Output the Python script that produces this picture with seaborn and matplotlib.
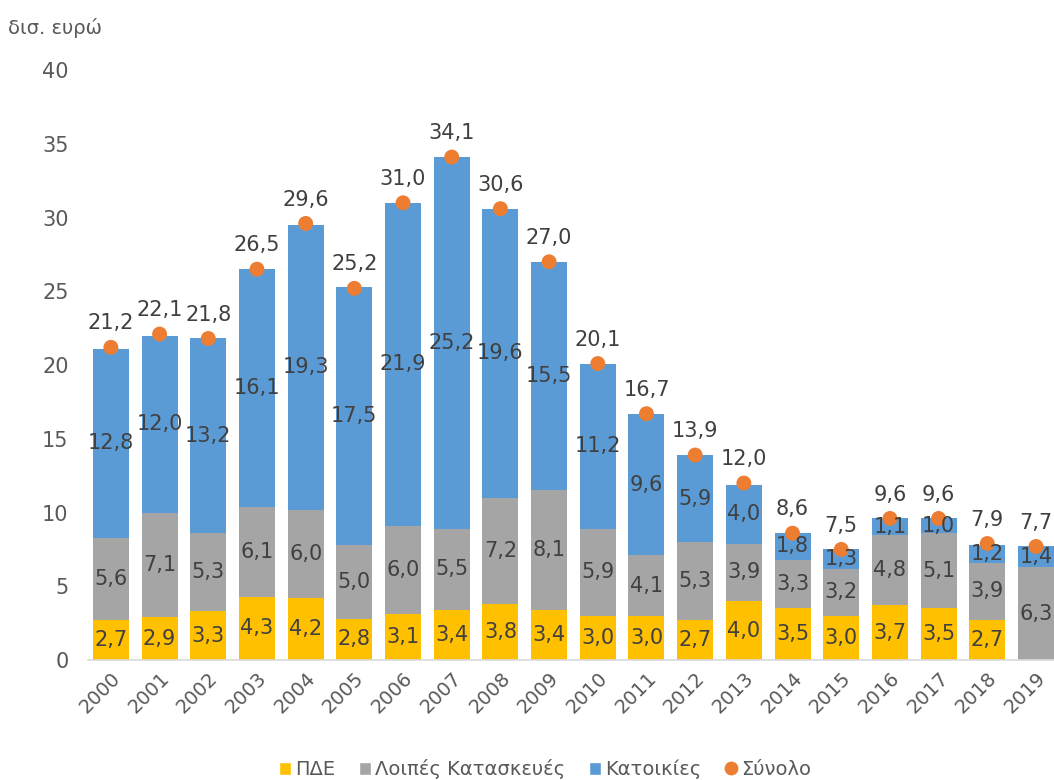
import matplotlib
matplotlib.use("Agg")
import matplotlib.pyplot as plt
import seaborn as sns
import numpy as np
import pandas as pd
from matplotlib.lines import Line2D
from matplotlib.patches import Patch

years = [str(y) for y in range(2000, 2020)]
pde = [2.7, 2.9, 3.3, 4.3, 4.2, 2.8, 3.1, 3.4, 3.8, 3.4, 3.0, 3.0, 2.7, 4.0, 3.5, 3.0, 3.7, 3.5, 2.7, 0.0]
other = [5.6, 7.1, 5.3, 6.1, 6.0, 5.0, 6.0, 5.5, 7.2, 8.1, 5.9, 4.1, 5.3, 3.9, 3.3, 3.2, 4.8, 5.1, 3.9, 6.3]
housing = [12.8, 12.0, 13.2, 16.1, 19.3, 17.5, 21.9, 25.2, 19.6, 15.5, 11.2, 9.6, 5.9, 4.0, 1.8, 1.3, 1.1, 1.0, 1.2, 1.4]
total = [21.2, 22.1, 21.8, 26.5, 29.6, 25.2, 31.0, 34.1, 30.6, 27.0, 20.1, 16.7, 13.9, 12.0, 8.6, 7.5, 9.6, 9.6, 7.9, 7.7]
series_names = ["ΠΔΕ", "Λοιπές Κατασκευές", "Κατοικίες", "Σύνολο"]

C_PDE = "#FFC000"
C_OTH = "#A5A5A5"
C_HOU = "#5B9BD5"
C_TOT = "#ED7D31"
TXT = "#404040"

df = pd.DataFrame({"year": years, "pde": pde, "other": other, "housing": housing, "total": total})
df["c1"] = df["pde"]
df["c2"] = df["pde"] + df["other"]
df["c3"] = df["c2"] + df["housing"]

sns.set_theme(style="white")
plt.rcParams["font.family"] = ["DejaVu Sans"]

fig = plt.figure(figsize=(10.54, 7.8), dpi=100)
ax = fig.add_axes([0.0835, 0.1538, 0.9165, 0.7564])

W = 0.74
for col, c in [("c3", C_HOU), ("c2", C_OTH), ("c1", C_PDE)]:
    sns.barplot(data=df, x="year", y=col, color=c, width=W, saturation=1, ax=ax,
                errorbar=None, linewidth=0, edgecolor="none")
sns.scatterplot(data=df, x="year", y="total", color=C_TOT, s=115, edgecolor="none", ax=ax, zorder=5)

def fmt(v):
    return f"{v:.1f}".replace(".", ",")

fs = 15
for i in range(len(years)):
    if pde[i] > 0:
        ax.text(i, pde[i] / 2, fmt(pde[i]), ha="center", va="center", fontsize=fs, color=TXT, zorder=6)
    if other[i] > 0:
        ax.text(i, pde[i] + other[i] / 2, fmt(other[i]), ha="center", va="center", fontsize=fs, color=TXT, zorder=6)
    if housing[i] > 0:
        ax.text(i, pde[i] + other[i] + housing[i] / 2, fmt(housing[i]), ha="center", va="center", fontsize=fs, color=TXT, zorder=6)
    ax.annotate(fmt(total[i]), (i, total[i]), xytext=(0, 10), textcoords="offset points",
                ha="center", va="bottom", fontsize=fs, color=TXT, zorder=6)

ax.set_xlim(-0.47, 19.37)
ax.set_ylim(0, 40)
ax.set_yticks(np.arange(0, 41, 5))
ax.tick_params(axis="y", labelsize=15, labelcolor="#595959", length=0, pad=14)
ax.tick_params(axis="x", labelsize=14, labelcolor="#595959", length=0, pad=6)
for lab in ax.get_xticklabels():
    lab.set_rotation(45)
    lab.set_ha("right")
    lab.set_rotation_mode("anchor")
ax.set_xlabel("")
ax.set_ylabel("")
for s in ["top", "right", "left"]:
    ax.spines[s].set_visible(False)
ax.spines["bottom"].set_color("#D9D9D9")
ax.spines["bottom"].set_linewidth(1.2)

fig.text(0.008, 0.964, "δισ. ευρώ", fontsize=14, color="#595959", ha="left", va="center")

handles = [
    Patch(facecolor=C_PDE, label=series_names[0]),
    Patch(facecolor=C_OTH, label=series_names[1]),
    Patch(facecolor=C_HOU, label=series_names[2]),
    Line2D([0], [0], marker="o", color="none", markerfacecolor=C_TOT, markeredgecolor="none", markersize=10, label=series_names[3]),
]
fig.legend(handles=handles, loc="center", bbox_to_anchor=(0.517, 0.014), ncol=4, frameon=False,
           fontsize=14, labelcolor="#595959", handlelength=0.65, handleheight=0.65, handletextpad=0.2,
           columnspacing=1.2)

fig.savefig("out.png", dpi=100)
